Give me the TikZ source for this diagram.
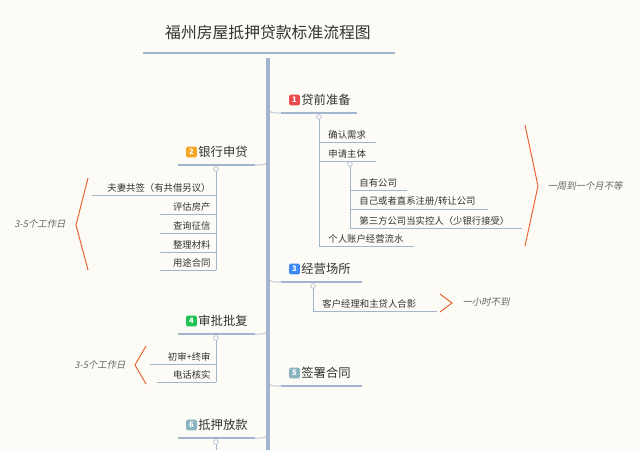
\documentclass[tikz,border=0pt]{standalone}
\usepackage{fontspec}
\setmainfont{Noto Sans CJK SC}
\newfontfamily\cjkit[FakeSlant=0.2]{Noto Sans CJK SC}
\definecolor{bgc}{HTML}{FDFBF5}
\definecolor{linec}{HTML}{A3B5CE}
\definecolor{txtc}{HTML}{333333}
\definecolor{bracec}{HTML}{E5602A}
\definecolor{bredc}{HTML}{E84C4C}
\definecolor{borangec}{HTML}{F5A623}
\definecolor{bbluec}{HTML}{3D8AF7}
\definecolor{bgreenc}{HTML}{1FC253}
\definecolor{bgrayc}{HTML}{8AB4C0}
\tikzset{
  topic/.style={font=\fontsize{10.5}{12}\selectfont, text=txtc, inner sep=1pt, anchor=west},
  item/.style={font=\fontsize{8}{10}\selectfont, text=txtc, inner sep=1pt},
  note/.style={font=\fontsize{8}{10}\selectfont\cjkit, text=black!60},
  badge/.style={fill=#1, rounded corners=1pt, text=white, font=\fontsize{6.5}{7}\selectfont\bfseries, minimum size=9pt, inner sep=0pt, anchor=west},
  uline/.style={draw=linec, line width=1.6pt},
  sline/.style={draw=linec, line width=0.6pt},
  knob/.style={circle, draw=linec, fill=bgc, line width=0.5pt, minimum size=4pt, inner sep=0pt},
  brace/.style={draw=bracec, line width=0.8pt}
}
\begin{document}
\begin{tikzpicture}[x=0.03cm, y=-0.03cm]
    \fill[bgc] (0,0) rectangle (639,450);
    \useasboundingbox (0,0) rectangle (639,450);
    % title
    \node[font=\fontsize{13.5}{15}\selectfont, text=txtc] (title) at (268,32) {福州房屋抵押贷款标准流程图};
    \draw[uline, line width=2pt] (143,53) -- (395,53);
    \draw[draw=linec, line width=3pt] (268,58) -- (268,450);
    % main topics
    \foreach \name/\num/\col/\lbl/\xa/\xb/\y in {
        t1/1/bredc/贷前准备/281/357/113, t2/2/borangec/银行申贷/178/255/165,
        t3/3/bbluec/经营场所/281/362/282, t4/4/bgreenc/审批批复/178/255/334,
        t5/5/bgrayc/签署合同/281/362/386, t6/6/bgrayc/抵押放款/178/255/438} {
        \node[badge=\col] (\name b) at (\xa+8,\y-13) {\num};
        \node[topic] (\name) at (\name b.east) {\lbl};
        \draw[uline] (\xa,\y) -- (\xb,\y);
    }
    % joins to spine
    \foreach \xa/\y in {281/113, 281/282, 281/386} \draw[sline] (269,\y-4) to[out=-90,in=180] (\xa,\y);
    \foreach \xb/\y in {255/165, 255/334, 255/438} \draw[sline] (267,\y-4) to[out=-90,in=0] (\xb,\y);
    % 1 贷前准备
    \draw[sline] (319,117) -- (319,246);
    \draw[sline] (350,164) -- (350,228);
    \foreach \name/\lbl/\x/\y/\xe in {
        a1/{确认需求}/319/142/376, a2/{申请主体}/319/161/376,
        a3/{自有公司}/350/190/407, a4/{自己或者直系注册/转让公司}/350/209/488,
        a5/{第三方公司当实控人（少银行接受）}/350/228/522, a6/{个人账户经营流水}/319/246/414} {
        \node[item, anchor=south west] (\name) at (\x+8,\y-1) {\lbl};
        \draw[sline] (\x,\y) -- (\xe,\y);
    }
    \node[knob] (k1) at (319,117) {};
    \node[knob] (k1s) at (350,164) {};
    \draw[brace] (525,125) -- (538,186) -- (525,246);
    \node[note] (n1) at (585,186) {一周到一个月不等};
    % 2 银行申贷
    \draw[sline] (216,169) -- (216,270);
    \foreach \name/\lbl/\xs/\y in {
        b1/夫妻共签（有共借另议）/92/195, b2/评估房产/160/214, b3/查询征信/160/233,
        b4/整理材料/160/252, b5/用途合同/160/270} {
        \node[item, anchor=south east] (\name) at (212,\y-1) {\lbl};
        \draw[sline] (\xs,\y) -- (216,\y);
    }
    \node[knob] (k2) at (216,169) {};
    \draw[brace] (88,178) -- (76,225) -- (88,270);
    \node[note] (n2) at (40,224) {3-5个工作日};
    % 3 经营场所
    \draw[sline] (313,286) -- (313,311) -- (437,311);
    \node[item, anchor=south west] (c1) at (321,310) {客户经理和主贷人合影};
    \node[knob] (k3) at (313,286) {};
    \draw[brace] (440,294) -- (452,303) -- (440,312);
    \node[note] (n3) at (486,302) {一小时不到};
    % 4 审批批复
    \draw[sline] (216,338) -- (216,382);
    \foreach \name/\lbl/\xs/\y in {d1/初审+终审/150/364, d2/电话核实/157/382} {
        \node[item, anchor=south east] (\name) at (212,\y-1) {\lbl};
        \draw[sline] (\xs,\y) -- (216,\y);
    }
    \node[knob] (k4) at (216,338) {};
    \draw[brace] (146,346) -- (135,365) -- (146,384);
    \node[note] (n4) at (100,365) {3-5个工作日};
    % 6 抵押放款
    \draw[sline] (216,442) -- (216,450);
    \node[knob] (k6) at (216,442) {};
\end{tikzpicture}
\end{document}
